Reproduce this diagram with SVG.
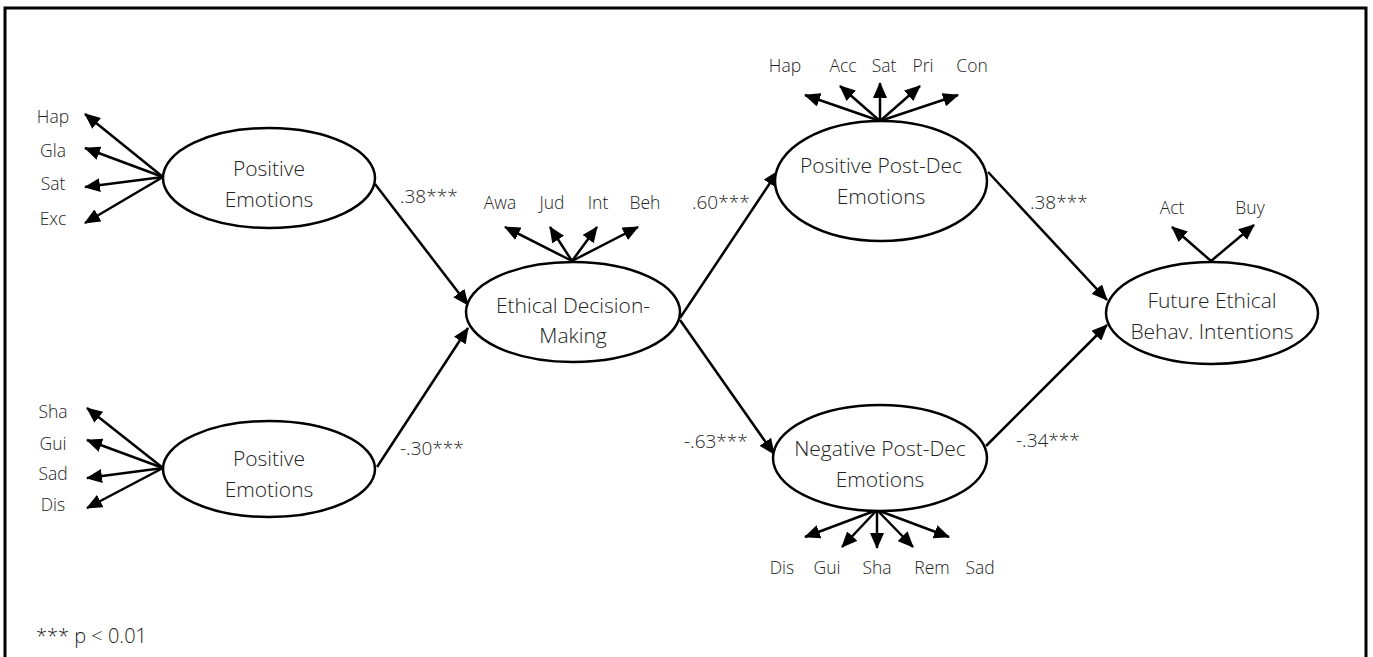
<svg xmlns="http://www.w3.org/2000/svg" width="1373" height="657" viewBox="0 0 1373 657">
<style>
text{font-family:"Open Sans","Liberation Sans",sans-serif;font-weight:300;fill:#222}
.n{font-size:21px;text-anchor:middle}
.l{font-size:17.5px;text-anchor:middle}
.c{font-size:19px}
ellipse{fill:#fff;stroke:#000;stroke-width:2.5}
line{stroke:#000;stroke-width:2.5;marker-end:url(#ah)}
</style>
<defs>
<marker id="ah" markerUnits="userSpaceOnUse" markerWidth="16" markerHeight="14" refX="15" refY="7" orient="auto"><path d="M0,0 L16,7 L0,14 z" fill="#000"/></marker>
</defs>
<polyline points="5,660 5,8 1366,8 1366,660" fill="none" stroke="#000" stroke-width="3"/>
<g id="connectors">
<line x1="375" y1="184" x2="468" y2="305"/>
<line x1="377" y1="467" x2="468" y2="328"/>
<line x1="680" y1="318" x2="778" y2="171"/>
<line x1="680" y1="320" x2="774" y2="454"/>
<line x1="988" y1="172" x2="1107" y2="300"/>
<line x1="986" y1="446" x2="1107" y2="325"/>
<text class="c" x="400" y="203">.38***</text>
<text class="c" x="400" y="455">-.30***</text>
<text class="c" x="692" y="209">.60***</text>
<text class="c" x="684" y="448">-.63***</text>
<text class="c" x="1030" y="209">.38***</text>
<text class="c" x="1016" y="447">-.34***</text>
</g>
<g id="pos-emotions">
<line x1="163" y1="177" x2="85" y2="114"/>
<line x1="163" y1="177" x2="85" y2="148"/>
<line x1="163" y1="177" x2="85" y2="187"/>
<line x1="163" y1="177" x2="85" y2="223"/>
<ellipse cx="269" cy="178" rx="106" ry="50"/>
<text class="n" x="269" y="176">Positive</text>
<text class="n" x="269" y="207">Emotions</text>
<text class="l" x="53" y="123">Hap</text>
<text class="l" x="53" y="157">Gla</text>
<text class="l" x="53" y="190">Sat</text>
<text class="l" x="53" y="225">Exc</text>
</g>
<g id="neg-emotions">
<line x1="163" y1="468" x2="87" y2="408"/>
<line x1="163" y1="468" x2="87" y2="440"/>
<line x1="163" y1="468" x2="87" y2="478"/>
<line x1="163" y1="468" x2="87" y2="508"/>
<ellipse cx="269" cy="469" rx="106" ry="48"/>
<text class="n" x="269" y="466">Positive</text>
<text class="n" x="269" y="497">Emotions</text>
<text class="l" x="53" y="418">Sha</text>
<text class="l" x="53" y="450">Gui</text>
<text class="l" x="53" y="480">Sad</text>
<text class="l" x="53" y="511">Dis</text>
</g>
<g id="edm">
<line x1="572" y1="261" x2="505" y2="227"/>
<line x1="572" y1="261" x2="550" y2="227"/>
<line x1="572" y1="261" x2="597" y2="227"/>
<line x1="572" y1="261" x2="638" y2="227"/>
<ellipse cx="573" cy="312" rx="107" ry="50"/>
<text class="n" x="573" y="313">Ethical Decision-</text>
<text class="n" x="573" y="343">Making</text>
<text class="l" x="500" y="209">Awa</text>
<text class="l" x="552" y="209">Jud</text>
<text class="l" x="598" y="209">Int</text>
<text class="l" x="645" y="209">Beh</text>
</g>
<g id="pos-post">
<line x1="880" y1="121" x2="805" y2="95"/>
<line x1="880" y1="121" x2="840" y2="86"/>
<line x1="880" y1="121" x2="880" y2="83"/>
<line x1="880" y1="121" x2="920" y2="86"/>
<line x1="880" y1="121" x2="958" y2="95"/>
<ellipse cx="881" cy="181" rx="106" ry="60"/>
<text class="n" x="881" y="173">Positive Post-Dec</text>
<text class="n" x="881" y="204">Emotions</text>
<text class="l" x="785" y="72">Hap</text>
<text class="l" x="843" y="72">Acc</text>
<text class="l" x="884" y="72">Sat</text>
<text class="l" x="923" y="72">Pri</text>
<text class="l" x="972" y="72">Con</text>
</g>
<g id="neg-post">
<line x1="877" y1="510" x2="805" y2="537"/>
<line x1="877" y1="510" x2="842" y2="547"/>
<line x1="877" y1="510" x2="877" y2="548"/>
<line x1="877" y1="510" x2="913" y2="547"/>
<line x1="877" y1="510" x2="949" y2="537"/>
<ellipse cx="880" cy="458" rx="107" ry="53"/>
<text class="n" x="880" y="456">Negative Post-Dec</text>
<text class="n" x="880" y="487">Emotions</text>
<text class="l" x="782" y="574">Dis</text>
<text class="l" x="827" y="574">Gui</text>
<text class="l" x="877" y="574">Sha</text>
<text class="l" x="932" y="574">Rem</text>
<text class="l" x="980" y="574">Sad</text>
</g>
<g id="future">
<line x1="1211" y1="261" x2="1172" y2="227"/>
<line x1="1211" y1="261" x2="1254" y2="225"/>
<ellipse cx="1212" cy="313" rx="106" ry="51"/>
<text class="n" x="1212" y="308">Future Ethical</text>
<text class="n" x="1212" y="339">Behav. Intentions</text>
<text class="l" x="1172" y="214">Act</text>
<text class="l" x="1250" y="214">Buy</text>
</g>
<text x="36" y="643" font-size="20">*** p &lt; 0.01</text>
</svg>
